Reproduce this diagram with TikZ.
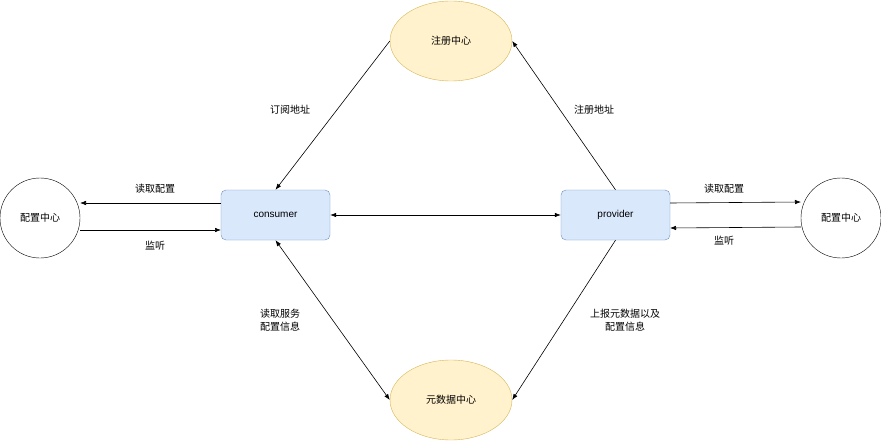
\documentclass[tikz,border=0pt]{standalone}
\usepackage{fontspec}
\setmainfont{Liberation Sans}
\newfontfamily\cjk{Noto Sans CJK SC}
\usetikzlibrary{shapes.geometric,arrows.meta}
\definecolor{yfill}{HTML}{FFF2CC}\definecolor{ydraw}{HTML}{D6B656}
\definecolor{bfill}{HTML}{DAE8FC}\definecolor{bdraw}{HTML}{6C8EBF}
\tikzset{
 yel/.style={ellipse,draw=ydraw,fill=yfill,minimum width=122pt,minimum height=80pt,inner sep=0pt,font=\cjk\fontsize{10}{12}\selectfont},
 box/.style={rectangle,rounded corners=5pt,draw=bdraw,fill=bfill,minimum width=109pt,minimum height=50pt,font=\fontsize{10}{12}\selectfont},
 circ/.style={circle,draw,fill=white,minimum size=80pt,inner sep=0pt,font=\cjk\fontsize{10}{12}\selectfont},
 lbl/.style={font=\cjk\fontsize{10}{13}\selectfont,align=center},
 arr/.style={-{Latex[length=6pt,width=4.5pt]},line width=0.6pt},
 darr/.style={{Latex[length=6pt,width=4.5pt]}-{Latex[length=6pt,width=4.5pt]},line width=0.6pt}
}
\begin{document}
\begin{tikzpicture}[x=1pt,y=-1pt]
\useasboundingbox (0,0) rectangle (881,441);
\node[yel] (reg) at (451,41) {注册中心};
\node[yel] (meta) at (451,400) {元数据中心};
\node[box] (cons) at (275.5,215) {consumer};
\node[box] (prov) at (615.5,215) {provider};
\node[circ] (cl) at (40,218) {配置中心};
\node[circ] (cr) at (841,218) {配置中心};
\coordinate (c1) at (221,203); \coordinate (l1) at (80,203);
\coordinate (c2) at (221,230); \coordinate (l2) at (80,230);
\coordinate (p1) at (670,203); \coordinate (r1) at (801,202);
\coordinate (p2) at (670,228); \coordinate (r2) at (801,227);
\draw[arr] (reg.west) -- (cons.north);
\draw[arr] (prov.north) -- (reg.east);
\draw[darr] (cons.east) -- (prov.west);
\draw[darr] (cons.south) -- (meta.west);
\draw[arr] (prov.south) -- (meta.east);
\draw[arr] (c1) -- (l1);
\draw[arr] (l2) -- (c2);
\draw[arr] (p1) -- (r1);
\draw[arr] (r2) -- (p2);
\node[lbl] (t1) at (290,110) {订阅地址};
\node[lbl] (t2) at (594,110) {注册地址};
\node[lbl] (t3) at (155,189) {读取配置};
\node[lbl] (t4) at (155,246) {监听};
\node[lbl] (t5) at (724,189) {读取配置};
\node[lbl] (t6) at (724,241) {监听};
\node[lbl] (t7) at (280,320) {读取服务\\配置信息};
\node[lbl] (t8) at (625,320) {上报元数据以及\\配置信息};
\end{tikzpicture}
\end{document}
